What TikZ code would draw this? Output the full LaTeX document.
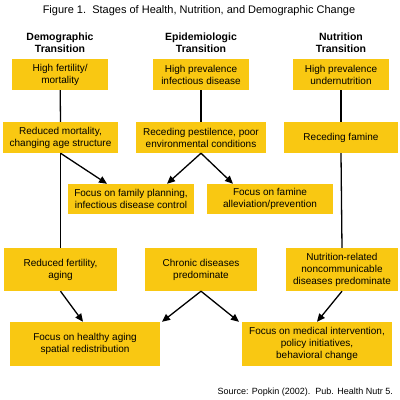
\documentclass[tikz,border=0pt]{standalone}
\usepackage{fontspec}
\setmainfont{Liberation Sans}
\usetikzlibrary{arrows.meta}
\definecolor{boxy}{RGB}{249,200,18}
\begin{document}
\begin{tikzpicture}[x=1pt,y=-1pt,
  box/.style={fill=boxy,draw=none,align=center,inner sep=0pt,font=\fontsize{10}{12}\selectfont},
  hdr/.style={align=center,inner sep=0pt,font=\fontsize{10.5}{12}\selectfont\bfseries},
  conn/.style={line width=1.3pt,draw=black},
  arr/.style={conn,-{Triangle[length=8pt,width=7pt]}}]
\useasboundingbox (0,0) rectangle (400,400);
\node[inner sep=0pt,font=\fontsize{11}{13}\selectfont] (title) at (199,11) {Figure 1.\ \ Stages of Health, Nutrition, and Demographic Change};
\node[hdr] (h1) at (60,43) {Demographic\\Transition};
\node[hdr] (h2) at (201,43) {Epidemiologic\\Transition};
\node[hdr] (h3) at (341,43) {Nutrition\\Transition};
\node[box,minimum width=96,minimum height=31] (b1) at (60.2,74.5) {High fertility/\\mortality};
\node[box,minimum width=96,minimum height=31] (b2) at (201,74.5) {High prevalence\\infectious disease};
\node[box,minimum width=96,minimum height=31] (b3) at (341,74.5) {High prevalence\\undernutrition};
\node[box,minimum width=115,minimum height=31] (r1) at (60.5,137.5) {Reduced mortality,\\changing age structure};
\node[box,minimum width=130,minimum height=31] (r2) at (201,137.5) {Receding pestilence, poor\\environmental conditions};
\node[box,minimum width=114,minimum height=31] (r3) at (341,137.5) {Receding famine};
\node[box,minimum width=126,minimum height=30] (f1) at (131,199) {Focus on family planning,\\infectious disease control};
\node[box,minimum width=126,minimum height=30] (f2) at (270,199) {Focus on famine\\alleviation/prevention};
\node[box,minimum width=113,minimum height=43] (d1) at (60.5,269.5) {Reduced fertility,\\aging};
\node[box,minimum width=112,minimum height=43] (d2) at (201,269.5) {Chronic diseases\\predominate};
\node[box,minimum width=112,minimum height=43] (d3) at (342,269.5) {Nutrition-related\\noncommunicable\\diseases predominate};
\node[box,minimum width=150,minimum height=44] (e1) at (85,344) {Focus on healthy aging\\spatial redistribution};
\node[box,minimum width=150,minimum height=44] (e2) at (317,344) {Focus on medical intervention,\\policy initiatives,\\behavioral change};
\node[inner sep=0pt,anchor=east,font=\fontsize{9}{11}\selectfont] (src) at (393,392) {Source: Popkin (2002).\ \ Pub. Health\ Nutr 5.};
\draw[conn] (b1.south) -- (r1.north);
\draw[conn] (r1.south) -- (d1.north);
\draw[conn] (b2.south) -- (r2.north);
\draw[conn] (b3.south) -- (r3.north);
\draw[conn] (r3.south) -- (d3.north);
\draw[arr] (r1.south) -- ([xshift=-24pt]f1.north);
\draw[arr] (r2.south) -- ([xshift=36pt]f1.north);
\draw[arr] (r2.south) -- ([xshift=-37pt]f2.north);
\draw[arr] (d1.south) -- ([xshift=-2pt]e1.north);
\draw[arr] (d2.south) -- ([xshift=77pt]e1.north);
\draw[arr] (d2.south) -- ([xshift=-78pt]e2.north);
\draw[arr] (d3.south) -- (e2.north);
\end{tikzpicture}
\end{document}
